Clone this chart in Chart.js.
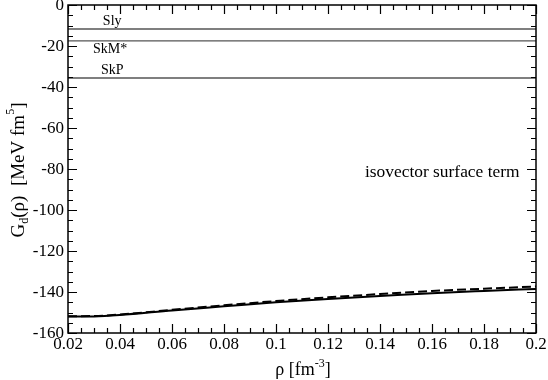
<!DOCTYPE html>
<html>
<head>
<meta charset="utf-8">
<script src="https://cdn.jsdelivr.net/npm/chart.js@4"></script>
<style>
html,body{margin:0;padding:0;background:#fff;}
#wrap{width:548px;height:380px;}
</style>
</head>
<body>
<div id="wrap"><canvas id="c" width="548" height="380"></canvas></div>
<script>
// ---- data ----
const rho = [0.02, 0.03, 0.04, 0.06, 0.08, 0.10, 0.12, 0.14, 0.16, 0.18, 0.20];
const solidG = [-152.0, -151.9, -151.2, -149.0, -147.0, -145.0, -143.4, -142.0, -140.6, -139.5, -138.5];
const dashedG = [-151.8, -151.7, -151.0, -148.7, -146.5, -144.4, -142.6, -141.0, -139.5, -138.4, -137.3];
const forceNames = ["Sly", "SkM*", "SkP"];
const forceValues = [-11.7, -17.5, -35.6];
const xRange = [0.02, 0.2];
const yRange = [-160, 0];
const xStep = 0.02, yStep = 20;
const annotation = "isovector surface term";

const FONT = "'Liberation Serif','DejaVu Serif',serif";

const datasets = [];
forceValues.forEach((v, i) => {
  datasets.push({
    label: forceNames[i],
    data: xRange.map(x => ({x: x, y: v})),
    borderColor: '#555',
    borderWidth: 1.3,
    pointRadius: 0,
    tension: 0
  });
});
datasets.push({
  label: 'solid',
  data: rho.map((x, i) => ({x: x, y: solidG[i]})),
  borderColor: '#000',
  borderWidth: 2,
  pointRadius: 0,
  cubicInterpolationMode: 'monotone'
});
datasets.push({
  label: 'dashed',
  data: rho.map((x, i) => ({x: x, y: dashedG[i]})),
  borderColor: '#000',
  borderWidth: 2,
  borderDash: [9, 4],
  pointRadius: 0,
  cubicInterpolationMode: 'monotone'
});

function fmt(v) { return String(Number(v.toFixed(4))); }

const framePlugin = {
  id: 'frame',
  afterDatasetsDraw(chart) {
    const ctx = chart.ctx;
    const xs = chart.scales.x, ys = chart.scales.y;
    const a = chart.chartArea;
    ctx.save();
    ctx.strokeStyle = '#000';
    ctx.lineWidth = 1.5;
    ctx.strokeRect(a.left, a.top, a.right - a.left, a.bottom - a.top);
    ctx.lineWidth = 1.2;
    const xMinor = xStep / 4;
    const nX = Math.round((xs.max - xs.min) / xMinor);
    for (let k = 0; k <= nX; k++) {
      const v = xs.min + k * xMinor;
      const px = Math.round(xs.getPixelForValue(v)) + 0.5;
      const len = (k % 4 === 0) ? 9 : 5;
      ctx.beginPath();
      ctx.moveTo(px, a.bottom); ctx.lineTo(px, a.bottom - len);
      ctx.moveTo(px, a.top); ctx.lineTo(px, a.top + len);
      ctx.stroke();
    }
    const yMinor = yStep / 4;
    const nY = Math.round((ys.max - ys.min) / yMinor);
    for (let k = 0; k <= nY; k++) {
      const v = ys.min + k * yMinor;
      const py = Math.round(ys.getPixelForValue(v)) + 0.5;
      const len = (k % 4 === 0) ? 9 : 5;
      ctx.beginPath();
      ctx.moveTo(a.left, py); ctx.lineTo(a.left + len, py);
      ctx.moveTo(a.right, py); ctx.lineTo(a.right - len, py);
      ctx.stroke();
    }
    ctx.fillStyle = '#000';
    ctx.font = '17px ' + FONT;
    ctx.textAlign = 'center';
    ctx.textBaseline = 'top';
    xs.ticks.forEach(t => {
      ctx.fillText(fmt(t.value), xs.getPixelForValue(t.value), a.bottom + 3);
    });
    ctx.textAlign = 'right';
    ctx.textBaseline = 'middle';
    ys.ticks.forEach(t => {
      ctx.fillText(fmt(t.value), a.left - 4, ys.getPixelForValue(t.value) + 1);
    });
    ctx.font = '14px ' + FONT;
    ctx.textAlign = 'center';
    const lx = xs.getPixelForValue(0.037);
    forceNames.forEach((n, i) => {
      const py = ys.getPixelForValue(forceValues[i]);
      if (n === 'SkM*') {
        ctx.textBaseline = 'top';
        ctx.fillText(n, lx - 2, py + 1);
      } else {
        ctx.textBaseline = 'bottom';
        ctx.fillText(n, lx, py - 1);
      }
    });
    ctx.font = '17.4px ' + FONT;
    ctx.textAlign = 'left';
    ctx.textBaseline = 'middle';
    ctx.fillText(annotation, 365, 172);
    // x title
    ctx.font = '18px ' + FONT;
    ctx.textBaseline = 'alphabetic';
    const xt1 = 'ρ [fm', xt2 = '-3', xt3 = ']';
    const w1 = ctx.measureText(xt1).width;
    ctx.font = '12px ' + FONT;
    const w2 = ctx.measureText(xt2).width;
    ctx.font = '18px ' + FONT;
    const w3 = ctx.measureText(xt3).width;
    let sx = 303 - (w1 + w2 + w3) / 2;
    const by = 375;
    ctx.fillText(xt1, sx, by); sx += w1;
    ctx.font = '12px ' + FONT; ctx.fillText(xt2, sx, by - 8); sx += w2;
    ctx.font = '18px ' + FONT; ctx.fillText(xt3, sx, by);
    // y title
    ctx.translate(24, 170);
    ctx.rotate(-Math.PI / 2);
    const parts = [
      {t: 'G', f: 19, dy: 0},
      {t: 'd', f: 12, dy: 4},
      {t: '(ρ)  [MeV fm', f: 19, dy: 0},
      {t: '5', f: 12, dy: -10},
      {t: ']', f: 19, dy: 0}
    ];
    let tw = 0;
    parts.forEach(p => { ctx.font = p.f + 'px ' + FONT; p.w = ctx.measureText(p.t).width; tw += p.w; });
    let cx = -tw / 2;
    parts.forEach(p => { ctx.font = p.f + 'px ' + FONT; ctx.fillText(p.t, cx, p.dy); cx += p.w; });
    ctx.restore();
  }
};

new Chart(document.getElementById('c'), {
  type: 'line',
  data: {datasets: datasets},
  options: {
    responsive: false,
    animation: false,
    layout: {padding: {left: 68, right: 12, top: 5, bottom: 47}},
    plugins: {legend: {display: false}, tooltip: {enabled: false}},
    scales: {
      x: {
        type: 'linear', min: xRange[0], max: xRange[1],
        ticks: {display: false, stepSize: xStep},
        grid: {display: false, drawTicks: false},
        border: {display: false}
      },
      y: {
        type: 'linear', min: yRange[0], max: yRange[1],
        ticks: {display: false, stepSize: yStep},
        grid: {display: false, drawTicks: false},
        border: {display: false}
      }
    }
  },
  plugins: [framePlugin]
});
</script>
</body>
</html>
